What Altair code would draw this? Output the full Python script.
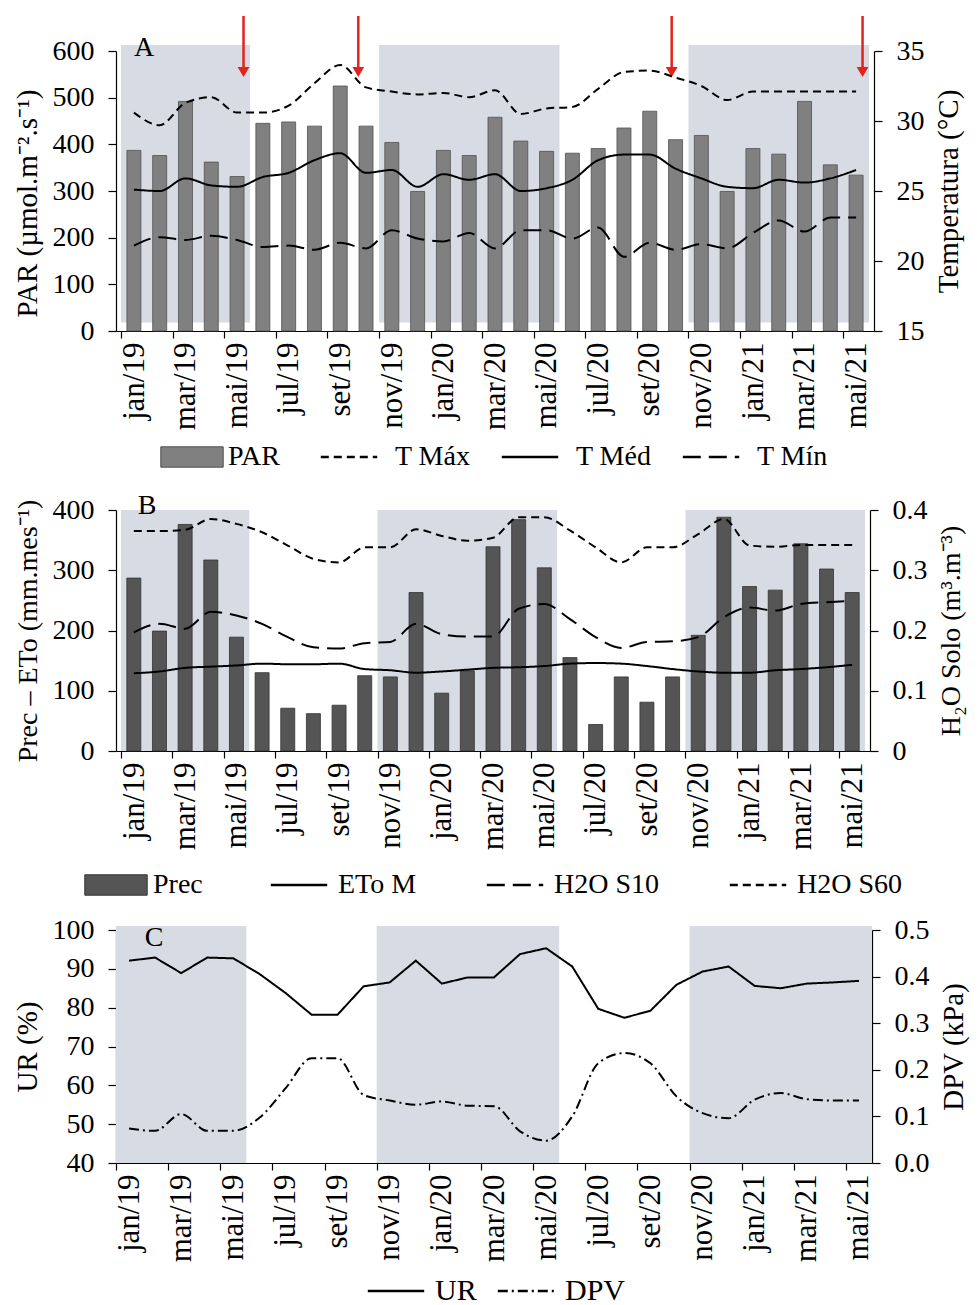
import altair as alt
import pandas as pd

FONT = "Liberation Serif"

months = ['jan/19', 'fev/19', 'mar/19', 'abr/19', 'mai/19', 'jun/19', 'jul/19', 'ago/19', 'set/19', 'out/19',
          'nov/19', 'dez/19', 'jan/20', 'fev/20', 'mar/20', 'abr/20', 'mai/20', 'jun/20', 'jul/20', 'ago/20',
          'set/20', 'out/20', 'nov/20', 'dez/20', 'jan/21', 'fev/21', 'mar/21', 'abr/21', 'mai/21']

# Panel A
par = [387, 376, 492, 362, 331, 445, 448, 439, 525, 439, 404, 299, 387, 376, 458,
       407, 385, 381, 391, 435, 471, 410, 419, 299, 391, 379, 492, 356, 334]
t_max = [30.6, 29.7, 31.3, 31.7, 30.6, 30.6, 31.1, 32.7, 34.0, 32.4, 32.1, 31.9, 32.0, 31.7, 32.2,
         30.5, 30.9, 31.0, 32.3, 33.5, 33.6, 33.1, 32.5, 31.5, 32.1, 32.1, 32.1, 32.1, 32.1]
t_med = [25.1, 25.0, 25.9, 25.4, 25.3, 26.0, 26.3, 27.2, 27.7, 26.3, 26.5, 25.3, 26.2, 25.8, 26.2,
         25.0, 25.2, 25.8, 27.2, 27.6, 27.6, 26.6, 25.9, 25.3, 25.2, 25.8, 25.6, 25.9, 26.5]
t_min = [21.1, 21.7, 21.5, 21.8, 21.5, 21.0, 21.1, 20.8, 21.3, 20.9, 22.2, 21.6, 21.4, 22.0, 20.9,
         22.2, 22.2, 21.6, 22.4, 20.3, 21.3, 20.8, 21.2, 20.9, 22.0, 22.9, 22.1, 23.1, 23.1]

# Panel B
prec = [287, 199, 376, 317, 189, 130, 71, 62, 76, 125, 123, 263, 96, 133, 339,
        384, 304, 155, 44, 123, 81, 123, 192, 388, 273, 267, 344, 302, 263]
eto = [129, 132, 138, 140, 142, 145, 144, 144, 145, 136, 134, 130, 132, 135, 138,
       139, 141, 145, 146, 145, 141, 136, 132, 130, 130, 134, 136, 139, 143]
h2o_s10 = [0.197, 0.211, 0.203, 0.231, 0.225, 0.211, 0.189, 0.172, 0.170, 0.179, 0.181, 0.211, 0.194, 0.190, 0.190,
           0.236, 0.244, 0.219, 0.189, 0.171, 0.181, 0.182, 0.189, 0.222, 0.238, 0.233, 0.244, 0.247, 0.249]
h2o_s60 = [0.365, 0.365, 0.367, 0.385, 0.377, 0.363, 0.341, 0.319, 0.313, 0.338, 0.338, 0.368, 0.357, 0.349, 0.354,
           0.388, 0.388, 0.366, 0.338, 0.313, 0.338, 0.338, 0.360, 0.385, 0.341, 0.339, 0.342, 0.342, 0.342]

# Panel C
ur = [92.1, 92.9, 88.9, 92.9, 92.7, 88.7, 83.8, 78.2, 78.2, 85.5, 86.5, 92.1, 86.2, 87.8, 87.8,
      93.8, 95.3, 90.6, 79.7, 77.4, 79.2, 85.9, 89.3, 90.6, 85.6, 85.0, 86.2, 86.5, 86.9]
dpv = [0.074, 0.069, 0.105, 0.069, 0.069, 0.097, 0.160, 0.225, 0.225, 0.146, 0.134, 0.125, 0.132, 0.123, 0.122,
       0.068, 0.048, 0.100, 0.214, 0.236, 0.214, 0.143, 0.107, 0.096, 0.136, 0.150, 0.137, 0.134, 0.134]

# rainy-season shading (month index boundaries) and sampling arrows (month index position)
rainy_start = [0, 10, 22]
rainy_end = [5, 17, 29]
arrow_pos = [4.75, 9.2, 21.35, 28.75]
panel_letters = ['A', 'B', 'C']

N = len(months)
pos = [i + 0.5 for i in range(N)]
label_js = "[" + ",".join("'%s'" % m for m in months) + "][datum.value]"

SHADE = '#d6dbe4'
RED = '#e3221c'
SWATCH = 'M-2.6,-0.85H2.6V0.85H-2.6Z'
LINESYM = 'M-2.35,0H2.35'
SYMSIZE = 576


def x_enc(field, width):
    return alt.X(field + ':Q',
                 scale=alt.Scale(domain=[0, N], nice=False, zero=False),
                 axis=alt.Axis(values=list(range(0, N, 2)), labelExpr=label_js, labelAngle=-90,
                               labelOffset=width / N / 2, labelAlign='right', labelBaseline='middle',
                               labelFontSize=31, tickSize=7, labelPadding=4, labelOverlap=False),
                 title=None)


def line_legend(lx, ly, lo, cp, fs=28):
    return alt.Legend(title=None, orient='none', legendX=lx, legendY=ly, direction='horizontal',
                      symbolType=LINESYM, symbolSize=SYMSIZE, symbolStrokeWidth=2.5,
                      symbolStrokeColor='black', symbolFillColor='transparent',
                      columnPadding=cp, labelOffset=lo, labelFontSize=fs)


def box_legend(lx, ly, lo, stroke, fs=28):
    return alt.Legend(title=None, orient='none', legendX=lx, legendY=ly, symbolType=SWATCH,
                      symbolSize=SYMSIZE, symbolStrokeColor=stroke, symbolStrokeWidth=1,
                      labelOffset=lo, labelFontSize=fs)


def letter(txt, x, y):
    return alt.Chart(pd.DataFrame({'t': [txt]})).mark_text(
        font=FONT, fontSize=28, align='center', baseline='middle', color='black').encode(
        text='t:N', x=alt.value(x), y=alt.value(y))


shade_df = pd.DataFrame({'start': rainy_start, 'end': rainy_end})

# ---------------- Panel A ----------------
WA, HA = 758, 280
dfA = pd.DataFrame({'pos': pos, 'PAR': par, 'T Máx': t_max, 'T Méd': t_med, 'T Mín': t_min, 'itemA': 'PAR'})
dfA_l = dfA.melt(id_vars=['pos'], value_vars=['T Máx', 'T Méd', 'T Mín'], var_name='serieA', value_name='temp')
yA = alt.Scale(domain=[0, 600], nice=False)
axA = alt.Axis(values=list(range(0, 601, 100)), titleFontSize=29, titleY=152, labelOverlap=False)
titleA = 'PAR (µmol.m⁻².s⁻¹)'

shadeA = alt.Chart(shade_df).mark_rect(color=SHADE).encode(
    x=x_enc('start', WA), x2='end:Q',
    y=alt.YDatum(18, scale=yA, axis=axA, title=titleA), y2=alt.datum(613))
barsA = alt.Chart(dfA).mark_bar(size=14, stroke='#505050', strokeWidth=0.8).encode(
    x=x_enc('pos', WA),
    y=alt.Y('PAR:Q', scale=yA, axis=axA, title=titleA),
    fill=alt.Fill('itemA:N', scale=alt.Scale(domain=['PAR'], range=['#808080']),
                  legend=box_legend(62, 392, 22, '#505050')))
arrow_df = pd.DataFrame({'apos': arrow_pos})
arrowA = alt.Chart(arrow_df).mark_rule(color=RED, strokeWidth=2.5).encode(
    x=x_enc('apos', WA), y=alt.YDatum(675, axis=axA, title=titleA), y2=alt.datum(562))
headA = alt.Chart(arrow_df).mark_point(shape='triangle-down', filled=True, color=RED, size=140,
                                       opacity=1).encode(
    x=x_enc('apos', WA), y=alt.YDatum(555, axis=axA, title=titleA))
leftA = alt.layer(shadeA, barsA, arrowA, headA, letter(panel_letters[0], 28, -3))
linesA = alt.Chart(dfA_l).mark_line(color='black', strokeWidth=2, interpolate='monotone').encode(
    x=x_enc('pos', WA),
    y=alt.Y('temp:Q', scale=alt.Scale(domain=[15, 35], nice=False, zero=False),
            axis=alt.Axis(values=[15, 20, 25, 30, 35], titleAngle=270, titleBaseline='top',
                          titleFontSize=29, labelOverlap=False),
            title='Temperatura (°C)'),
    strokeDash=alt.StrokeDash('serieA:N',
                              scale=alt.Scale(domain=['T Máx', 'T Méd', 'T Mín'],
                                              range=[[8, 5], [1, 0], [18, 8]]),
                              legend=line_legend(219, 392, 32, 25)))
panelA = alt.layer(leftA, linesA).resolve_scale(y='independent').properties(width=WA, height=HA)

# ---------------- Panel B ----------------
WB, HB = 754, 241
dfB = pd.DataFrame({'pos': pos, 'Prec': prec, 'ETo M': eto, 'H2O S10': h2o_s10, 'H2O S60': h2o_s60,
                    'itemB': 'Prec'})
dfB_eto = dfB.melt(id_vars=['pos'], value_vars=['ETo M'], var_name='serieB', value_name='val')
dfB_h = dfB.melt(id_vars=['pos'], value_vars=['H2O S10', 'H2O S60'], var_name='serieB', value_name='h2o')
yB = alt.Scale(domain=[0, 400], nice=False)
axB = alt.Axis(values=list(range(0, 401, 100)), titleFontSize=28, labelOverlap=False)
titleB = 'Prec – ETo (mm.mes⁻¹)'
dashB = alt.Scale(domain=['ETo M', 'H2O S10', 'H2O S60'], range=[[1, 0], [18, 8], [8, 5]])
legB = line_legend(169, 361, 25, 64)

shadeB = alt.Chart(shade_df).mark_rect(color=SHADE).encode(
    x=x_enc('start', WB), x2='end:Q',
    y=alt.YDatum(0, scale=yB, axis=axB, title=titleB), y2=alt.datum(400))
barsB = alt.Chart(dfB).mark_bar(size=14, stroke='#333333', strokeWidth=0.8).encode(
    x=x_enc('pos', WB),
    y=alt.Y('Prec:Q', scale=yB, axis=axB, title=titleB),
    fill=alt.Fill('itemB:N', scale=alt.Scale(domain=['Prec'], range=['#555555']),
                  legend=box_legend(-14, 361, 23, '#333333')))
etoB = alt.Chart(dfB_eto).mark_line(color='black', strokeWidth=2, interpolate='monotone').encode(
    x=x_enc('pos', WB), y=alt.Y('val:Q', scale=yB, axis=axB, title=titleB),
    strokeDash=alt.StrokeDash('serieB:N', scale=dashB, legend=legB))
leftB = alt.layer(shadeB, barsB, etoB, letter(panel_letters[1], 31, -4))
h2oB = alt.Chart(dfB_h).mark_line(color='black', strokeWidth=2, interpolate='monotone').encode(
    x=x_enc('pos', WB),
    y=alt.Y('h2o:Q', scale=alt.Scale(domain=[0, 0.4], nice=False),
            axis=alt.Axis(values=[0, 0.1, 0.2, 0.3, 0.4], titleAngle=270, titleBaseline='top',
                          titleFontSize=28, labelOverlap=False,
                          labelExpr="datum.value == 0 ? '0' : format(datum.value, '.1f')"),
            title='H₂O Solo (m³.m⁻³)'),
    strokeDash=alt.StrokeDash('serieB:N', scale=dashB, legend=legB))
panelB = alt.layer(leftB, h2oB).resolve_scale(y='independent').properties(width=WB, height=HB)

# ---------------- Panel C ----------------
WC, HC = 756, 233
dfC = pd.DataFrame({'pos': pos, 'UR': ur, 'DPV': dpv})
dfC_ur = dfC.melt(id_vars=['pos'], value_vars=['UR'], var_name='serieC', value_name='ur')
dfC_dpv = dfC.melt(id_vars=['pos'], value_vars=['DPV'], var_name='serieC', value_name='dpv')
yC = alt.Scale(domain=[40, 100], nice=False, zero=False)
axC = alt.Axis(values=list(range(40, 101, 10)), titleFontSize=29, labelOverlap=False)
dashC = alt.Scale(domain=['UR', 'DPV'], range=[[1, 0], [10, 4, 2, 4]])
legC = line_legend(265, 346, 24, 15, fs=30)

shadeC = alt.Chart(shade_df).mark_rect(color=SHADE).encode(
    x=x_enc('start', WC), x2='end:Q',
    y=alt.YDatum(40, scale=yC, axis=axC, title='UR (%)'), y2=alt.datum(101))
urC = alt.Chart(dfC_ur).mark_line(color='black', strokeWidth=2).encode(
    x=x_enc('pos', WC),
    y=alt.Y('ur:Q', scale=yC, axis=axC, title='UR (%)'),
    strokeDash=alt.StrokeDash('serieC:N', scale=dashC, legend=legC))
leftC = alt.layer(shadeC, urC, letter(panel_letters[2], 38, 8))
dpvC = alt.Chart(dfC_dpv).mark_line(color='black', strokeWidth=2, interpolate='monotone').encode(
    x=x_enc('pos', WC),
    y=alt.Y('dpv:Q', scale=alt.Scale(domain=[0, 0.5], nice=False),
            axis=alt.Axis(values=[0, 0.1, 0.2, 0.3, 0.4, 0.5], format='.1f', titleAngle=270,
                          titleBaseline='top', titleFontSize=29, labelOverlap=False),
            title='DPV (kPa)'),
    strokeDash=alt.StrokeDash('serieC:N', scale=dashC, legend=legC))
panelC = alt.layer(leftC, dpvC).resolve_scale(y='independent').properties(width=WC, height=HC)

chart = alt.vconcat(panelA, panelB, panelC, spacing=179, bounds='flush').resolve_scale(
    fill='independent', strokeDash='independent', x='independent', y='independent'
).configure_view(stroke=None).configure_axis(
    labelFont=FONT, titleFont=FONT, labelFontSize=28, titleFontSize=29, titleFontWeight='normal',
    labelColor='black', titleColor='black', domainColor='black', tickColor='black', grid=False,
    domainWidth=1.2, tickWidth=1.2, titlePadding=10
).configure_axisY(
    tickSize=8, labelPadding=14
).configure_legend(
    labelFont=FONT, labelFontSize=28, labelColor='black'
).properties(padding={'left': 5, 'top': 6, 'right': 2, 'bottom': 0})

chart.save("out.html", embed_options={"renderer": "svg", "actions": False})
